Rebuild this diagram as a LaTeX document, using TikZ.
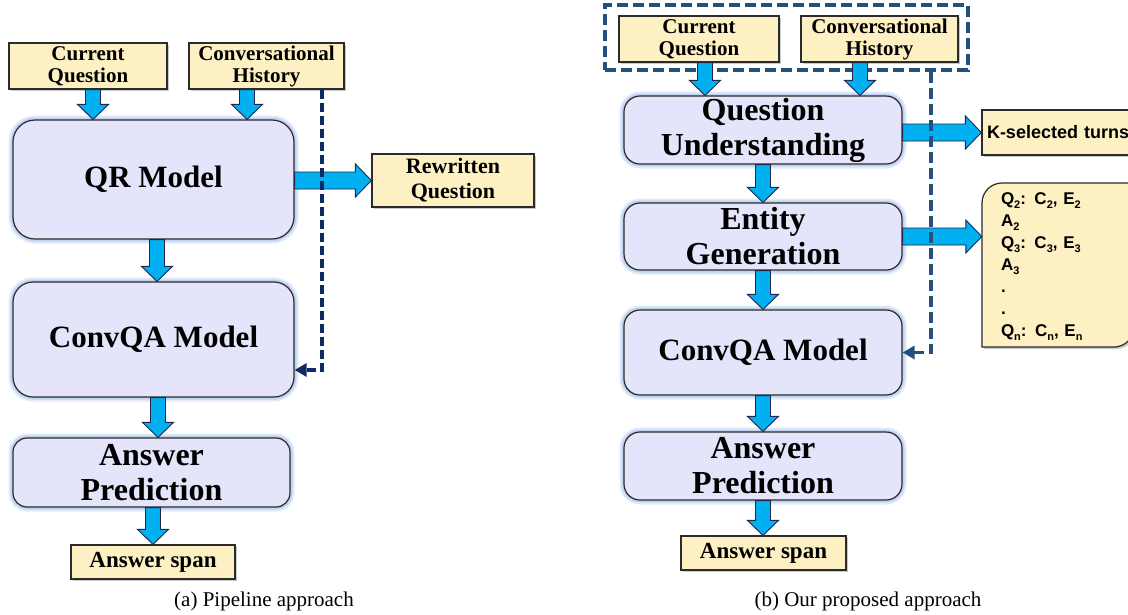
\documentclass[tikz,border=0pt]{standalone}
\usepackage{fontspec}
\setmainfont{Liberation Serif}
\newfontfamily\arialb{Liberation Sans}
\usetikzlibrary{shadows,arrows.meta,calc}

\definecolor{boxyellow}{HTML}{FDF0C3}
\definecolor{boxlav}{HTML}{E4E4FB}
\definecolor{arrowblue}{HTML}{00B0F0}
\definecolor{edgedark}{HTML}{2B2B2B}
\definecolor{navyL}{HTML}{0E2A63}
\definecolor{navyR}{HTML}{24507D}
\definecolor{glowblue}{HTML}{A9C4EB}

\newcommand\sbs[1]{\raisebox{-4pt}{\fontsize{11}{11}\selectfont #1}}

\tikzset{
  inbox/.style={draw=edgedark, line width=1.2pt, fill=boxyellow, inner sep=0pt, align=center,
    font=\bfseries\fontsize{21}{22}\selectfont,
    drop shadow={shadow xshift=2pt, shadow yshift=-2pt, opacity=0.3, fill=black!70}},
  procbox/.style={draw=edgedark, line width=1.2pt, fill=boxlav, rounded corners=16pt, inner sep=0pt, align=center,
    font=\bfseries\fontsize{32}{35}\selectfont,
    preaction={draw=glowblue, line width=9pt, opacity=0.35},
    preaction={draw=glowblue, line width=5pt, opacity=0.6}},
  fatarrow/.style={fill=arrowblue, draw=edgedark!85!blue, line width=0.9pt},
  dashL/.style={draw=navyL, line width=3.2pt, dash pattern=on 9pt off 4pt},
  dashR/.style={draw=navyR, line width=3.5pt, dash pattern=on 11pt off 5pt},
  dashtip/.style={-{Triangle[length=12pt,width=13pt]}},
  captext/.style={font=\fontsize{21}{24}\selectfont}
}

\newcommand\fatdown[2]{\filldraw[fatarrow] let \p1=(#1), \p2=(#2) in
  (\x1-7.5pt,\y1) -- (\x1-7.5pt,\y2+15pt) -- (\x1-15.5pt,\y2+15pt) -- (\x1,\y2)
  -- (\x1+15.5pt,\y2+15pt) -- (\x1+7.5pt,\y2+15pt) -- (\x1+7.5pt,\y1) -- cycle;}
\newcommand\fatright[2]{\filldraw[fatarrow] let \p1=(#1), \p2=(#2) in
  (\x1,\y1+8.5pt) -- (\x2-16pt,\y1+8.5pt) -- (\x2-16pt,\y1+16.5pt) -- (\x2,\y1)
  -- (\x2-16pt,\y1-16.5pt) -- (\x2-16pt,\y1-8.5pt) -- (\x1,\y1-8.5pt) -- cycle;}

\begin{document}
\begin{tikzpicture}[x=1pt,y=-1pt]
\useasboundingbox (0,0) rectangle (1128,614);
\fill[white] (0,0) rectangle (1128,614);
\clip (0,0) rectangle (1128,614);

% ---------------- (a) Pipeline approach ----------------
\node[inbox, minimum width=158pt, minimum height=46pt] (cqL) at (88,66) {Current\\Question};
\node[inbox, minimum width=155pt, minimum height=46pt] (chL) at (266.5,66) {Conversational\\History};
\node[procbox, rounded corners=22pt, font=\bfseries\fontsize{31}{34}\selectfont, minimum width=281pt, minimum height=119pt] (qr) at (153.5,179.5) {QR Model};
\node[inbox, font=\bfseries\fontsize{22}{25}\selectfont, minimum width=162pt, minimum height=53pt] (rw) at (453,180.5) {Rewritten\\Question};
\node[procbox, rounded corners=20pt, font=\bfseries\fontsize{31}{34}\selectfont, minimum width=281pt, minimum height=115pt] (convL) at (153.5,339.5) {ConvQA Model};
\node[procbox, rounded corners=14pt, minimum width=277pt, minimum height=69pt] (apL) at (151.5,472.5) {Answer\\Prediction};
\node[inbox, font=\bfseries\fontsize{23}{25}\selectfont, minimum width=164pt, minimum height=34pt] (asL) at (153,562) {Answer span};
\node[captext] (capA) at (264,601) {(a) Pipeline approach};

\coordinate (a1) at ([xshift=5pt]cqL.south);
\coordinate (a2) at ([xshift=-19.5pt]chL.south);
\coordinate (a3) at ([xshift=3.5pt]qr.south);
\coordinate (a4) at ([xshift=4.5pt]convL.south);
\fatdown{a1}{a1 |- qr.north}
\fatdown{a2}{a2 |- qr.north}
\fatdown{a3}{a3 |- convL.north}
\fatdown{a4}{a4 |- apL.north}
\fatdown{apL.south -| asL.north}{asL.north}
\fatright{qr.east |- rw.west}{rw.west}

\coordinate (ldstart) at ([xshift=55.5pt]chL.south);
\coordinate (ldend) at ([yshift=-30.5pt]convL.east);
\draw[dashL, dashtip] (ldstart) |- (ldend);

% ---------------- (b) Our proposed approach ----------------
\node[dashR, minimum width=363pt, minimum height=65pt, inner sep=0pt] (grp) at (786.5,37.5) {};
\node[inbox, minimum width=160pt, minimum height=46pt] (cqR) at (699,39) {Current\\Question};
\node[inbox, minimum width=157pt, minimum height=46pt] (chR) at (879.5,39) {Conversational\\History};
\node[procbox, minimum width=278pt, minimum height=68pt] (qu) at (763,130) {Question\\Understanding};
\node[procbox, minimum width=278pt, minimum height=67pt] (eg) at (763,236.5) {Entity\\Generation};
\node[procbox, font=\bfseries\fontsize{31}{34}\selectfont, minimum width=278pt, minimum height=85pt] (convR) at (763,352.5) {ConvQA Model};
\node[procbox, minimum width=278pt, minimum height=68pt] (apR) at (763,466) {Answer\\Prediction};
\node[inbox, font=\bfseries\fontsize{23}{25}\selectfont, minimum width=165pt, minimum height=34pt] (asR) at (763.5,553) {Answer span};
\node[captext] (capB) at (868,601) {(b) Our proposed approach};

\node[inbox, font=\arialb\bfseries\fontsize{18}{21}\selectfont, text width=160pt, align=left, inner xsep=5pt, minimum height=45pt] (ks) at (1067,132.5) {K-selected turns};

\filldraw[draw=edgedark, line width=1.2pt, fill=boxyellow, drop shadow={shadow xshift=2pt, shadow yshift=-2pt, opacity=0.3, fill=black!70}]
  (982,347) -- (982,203) .. controls (982,192) and (991,183) .. (1002,183) -- (1134,183) -- (1134,327)
  .. controls (1134,338) and (1125,347) .. (1114,347) -- cycle;
\node[text width=114pt, inner xsep=19pt, inner ysep=0pt, minimum height=164pt, align=left,
  font=\arialb\bfseries\fontsize{17}{22}\selectfont] (list) at (1058,267)
  {Q\sbs{2}: C\sbs{2}, E\sbs{2}\\
   A\sbs{2}\\
   Q\sbs{3}: C\sbs{3}, E\sbs{3}\\
   A\sbs{3}\\
   .\\
   .\\
   Q\sbs{n}: C\sbs{n}, E\sbs{n}};

\coordinate (b1) at ([xshift=6pt]cqR.south);
\coordinate (b2) at ([xshift=-19.5pt]chR.south);
\fatdown{b1}{b1 |- qu.north}
\fatdown{b2}{b2 |- qu.north}
\fatdown{qu.south}{eg.north}
\fatdown{eg.south}{convR.north}
\fatdown{convR.south}{apR.north}
\fatdown{apR.south}{asR.north}
\fatright{qu.east |- ks.west}{ks.west}
\fatright{eg.east}{eg.east -| list.west}

\coordinate (rdstart) at ([xshift=144.5pt]grp.south);
\draw[dashR, dashtip] (rdstart) |- (convR.east);
\end{tikzpicture}
\end{document}
